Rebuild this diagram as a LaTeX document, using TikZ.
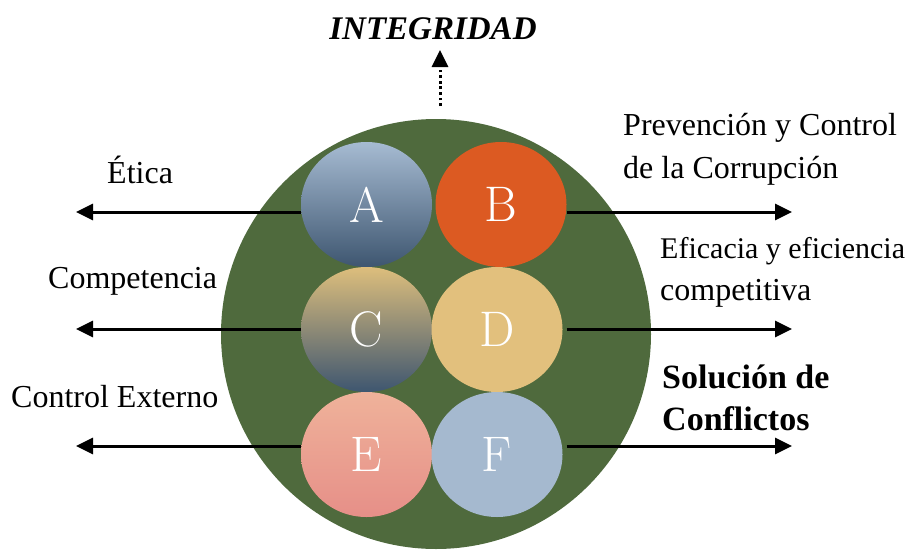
\documentclass[tikz,border=0pt]{standalone}
\usepackage{fontspec}
\newfontfamily\lib{Liberation Serif}
\usetikzlibrary{shapes.geometric,arrows.meta}
\definecolor{bigGreen}{RGB}{79,106,61}
\definecolor{bOrange}{RGB}{220,90,34}
\definecolor{dTan}{RGB}{226,192,125}
\definecolor{fBlue}{RGB}{165,185,207}
\definecolor{aTop}{RGB}{166,187,210}
\definecolor{aBot}{RGB}{62,86,112}
\definecolor{cTop}{RGB}{221,190,124}
\definecolor{eTop}{RGB}{239,178,154}
\definecolor{eBot}{RGB}{230,143,136}
\tikzset{
  blob/.style={ellipse, minimum width=131pt, minimum height=125pt, inner sep=0pt,
    text=white, font=\fontsize{50}{50}\selectfont},
  lbl/.style={anchor=base west, inner sep=0pt, font=\lib\fontsize{32}{43}\selectfont},
  blbl/.style={anchor=base west, inner sep=0pt, font=\lib\bfseries\fontsize{34}{43}\selectfont},
  arr/.style={line width=3pt, -{Triangle[length=17pt,width=16pt]}},
  dotarr/.style={line width=3pt, dash pattern=on 2.8pt off 2.8pt, -{Triangle[length=17pt,width=16pt]}},
}
\begin{document}
\begin{tikzpicture}[x=1pt,y=-1pt]
\useasboundingbox (0,0) rectangle (915,554);
\fill[bigGreen] (436,334) circle[radius=215];
\node[blob, top color=aTop, bottom color=aBot] (A) at (366.5,204.5) {A};
\node[blob, fill=bOrange] (B) at (501,204.5) {B};
\node[blob, top color=cTop, bottom color=aBot] (C) at (366.5,329.5) {C};
\node[blob, fill=dTan] (D) at (497,329.5) {D};
\node[blob, top color=eTop, bottom color=eBot] (E) at (366.5,454.5) {E};
\node[blob, fill=fBlue] (F) at (497,454.5) {F};
% arrow ends
\coordinate (la) at (76,212);
\coordinate (lc) at (76,329);
\coordinate (le) at (76,446);
\coordinate (rb) at (792,212);
\coordinate (rd) at (792,329);
\coordinate (rf) at (792,446);
\coordinate (top0) at (440,106);
\coordinate (top1) at (440,50);
\draw[arr] (A.west |- la) -- (la);
\draw[arr] (C.west |- lc) -- (lc);
\draw[arr] (E.west |- le) -- (le);
\draw[arr] (B.east |- rb) -- (rb);
\draw[arr] (B.east |- rd) -- (rd);
\draw[arr] (B.east |- rf) -- (rf);
\draw[dotarr] (top0) -- (top1);
% labels
\node[anchor=base, inner sep=0pt, font=\lib\bfseries\itshape\fontsize{33}{40}\selectfont] (integ) at (433,39) {INTEGRIDAD};
\node[lbl] (etica) at (107,183) {Ética};
\node[lbl] (comp) at (48,288) {Competencia};
\node[lbl] (cext) at (11,407) {Control Externo};
\node[lbl] (prev1) at (623,135) {Prevención y Control};
\node[lbl] (prev2) at (623,178) {de la Corrupción};
\node[lbl, font=\lib\fontsize{30}{43}\selectfont] (efi1) at (660,258) {Eficacia y eficiencia};
\node[lbl] (efi2) at (660,300) {competitiva};
\node[blbl] (sol1) at (662,388) {Solución de};
\node[blbl] (sol2) at (662,430) {Conflictos};
\end{tikzpicture}
\end{document}
